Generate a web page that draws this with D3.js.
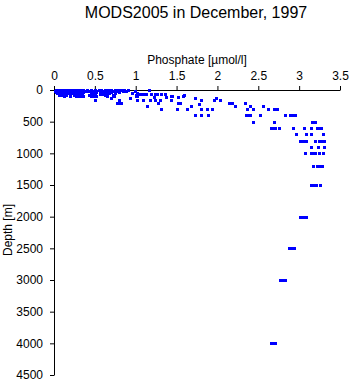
<!DOCTYPE html>
<html><head><meta charset="utf-8">
<script src="https://cdn.jsdelivr.net/npm/d3@7"></script>
<style>body{margin:0;background:#fff}svg{font-family:"Liberation Sans",Arial,sans-serif}</style>
</head><body><svg id="c" width="350" height="384"></svg>
<script>
const title = "MODS2005 in December, 1997";
const xLabel = "Phosphate [\u00b5mol/l]";
const yLabel = "Depth [m]";
const xTicks = [0, 0.5, 1, 1.5, 2, 2.5, 3, 3.5];
const yTicks = [0, 500, 1000, 1500, 2000, 2500, 3000, 3500, 4000, 4500];

// surface band: depth level -> phosphate values
const surfaceDepths = [0, 10, 20, 30, 50, 75, 100];
const surfaceValues = [
  [0.02,0.05,0.08,0.1,0.13,0.16,0.2,0.22,0.25,0.28,0.3,0.33,0.36,0.4,0.45,0.5,0.55,0.58,0.62,0.66,0.7,0.75,0.78,0.82,0.86,0.9],
  [0.01,0.04,0.07,0.11,0.14,0.18,0.21,0.24,0.27,0.31,0.35,0.42,0.47,0.52,0.57,0.6,0.64,0.68,0.73,0.8,0.88,0.99],
  [0.03,0.06,0.09,0.12,0.15,0.19,0.23,0.26,0.29,0.32,0.38,0.44,0.5,0.56,0.61,0.65,0.72,0.77,0.85],
  [0.02,0.05,0.08,0.12,0.17,0.2,0.24,0.28,0.31,0.35,0.45,0.52,0.59,0.63,0.7,0.8],
  [0.04,0.07,0.1,0.14,0.18,0.22,0.26,0.3,0.34,0.46,0.5,0.6,0.67,0.75,0.95,1.02],
  [0.06,0.1,0.15,0.2,0.25,0.28,0.33,0.43,0.48,0.62,0.72,1.0],
  [0.12,0.19,0.27,0.3,0.36,0.45,0.5,0.65,1.02]
];
// scattered samples [phosphate, depth]
const samples = [
  [0.5,160],[0.47,100],[0.52,100],[0.65,100],[0.7,130],[0.73,90],[0.56,70],[0.6,70],[0.64,70],
  [0.28,100],[0.32,100],[0.36,100],[0.77,200],[0.8,200],[0.82,200],[0.79,160],
  [0.93,120],[1.0,80],[1.0,100],[1.01,150],[0.99,10],[1.05,60],[1.09,60],[1.13,60],[1.09,160],
  [1.14,250],[1.16,5],[1.17,160],[1.19,70],[1.22,110],[1.24,150],[1.23,60],[1.26,60],[1.27,210],
  [1.3,160],[1.31,60],[1.31,300],[1.36,70],[1.37,110],[1.43,90],[1.45,90],[1.43,160],
  [1.51,300],[1.52,110],[1.54,210],[1.52,210],[1.58,100],[1.59,80],[1.63,300],[1.68,250],
  [1.73,130],[1.73,400],[1.77,220],[1.8,160],[1.8,300],[1.8,400],[1.87,300],[1.88,400],[1.93,300],
  [1.96,150],[1.98,130],[2.03,150],[2.14,200],[2.16,200],[2.18,200],[2.22,250],[2.34,200],
  [2.4,250],[2.56,250],[2.36,300],[2.43,300],[2.62,300],[2.69,300],[2.73,300],
  [2.35,400],[2.38,400],[2.4,400],[2.52,400],[2.43,500],[2.83,400],[2.89,400],[2.92,400],[2.95,400],
  [2.69,500],[3.16,500],[3.19,500],
  [2.65,600],[2.68,600],[2.7,600],[2.75,600],[2.92,600],[3.06,600],[3.14,600],[3.22,600],[3.25,600],[3.27,600],
  [2.96,700],[3.08,700],[3.14,700],[3.29,700],
  [3.01,800],[3.04,800],[3.07,800],[3.09,800],[3.19,800],[3.24,800],[3.27,800],[3.3,800],
  [3.14,900],[3.23,900],[3.3,900],
  [3.07,1000],[3.14,1000],[3.16,1000],[3.19,1000],[3.24,1000],[3.29,1000],
  [3.17,1200],[3.22,1200],[3.25,1200],[3.28,1200],
  [3.15,1500],[3.18,1500],[3.21,1500],[3.25,1500],
  [3.01,2000],[3.05,2000],[3.09,2000],
  [2.88,2500],[2.91,2500],[2.94,2500],
  [2.77,3000],[2.8,3000],[2.83,3000],
  [2.65,4000],[2.68,4000],[2.71,4000]
];

const points = [];
surfaceDepths.forEach((d, i) => surfaceValues[i].forEach(v => points.push([v, d])));
samples.forEach(s => points.push(s));

const svg = d3.select("#c");
const x = d3.scaleLinear().domain([0, 3.5]).range([54, 340]);
const y = d3.scaleLinear().domain([0, 4500]).range([90, 375]);

svg.append("text").attr("x", 196).attr("y", 18).attr("text-anchor", "middle")
  .attr("font-size", 16).text(title);

const gx = svg.append("g").attr("transform", "translate(0,90)")
  .call(d3.axisTop(x).tickValues(xTicks).tickSize(4).tickSizeOuter(0).tickPadding(6)
  .tickFormat(d3.format("")));
const gy = svg.append("g").attr("transform", "translate(54,0)")
  .call(d3.axisLeft(y).tickValues(yTicks).tickSize(4).tickSizeOuter(0).tickPadding(7)
  .tickFormat(d3.format("d")));
[gx, gy].forEach(g => {
  g.selectAll("text").attr("font-size", 12).attr("font-family", '"Liberation Sans",Arial,sans-serif').attr("fill", "#000");
  g.selectAll("line,path").attr("stroke", "#000");
});

svg.append("text").attr("x", 197).attr("y", 64).attr("text-anchor", "middle")
  .attr("font-size", 12).text(xLabel);
svg.append("text").attr("transform", "translate(12,230) rotate(-90)").attr("text-anchor", "middle")
  .attr("font-size", 12).text(yLabel);

svg.append("g").selectAll("rect").data(points).join("rect")
  .attr("x", d => Math.round(x(d[0])) - 1).attr("y", d => Math.round(y(d[1])) - 1)
  .attr("width", 3).attr("height", 3).attr("fill", "#0000ff");
</script></body></html>
